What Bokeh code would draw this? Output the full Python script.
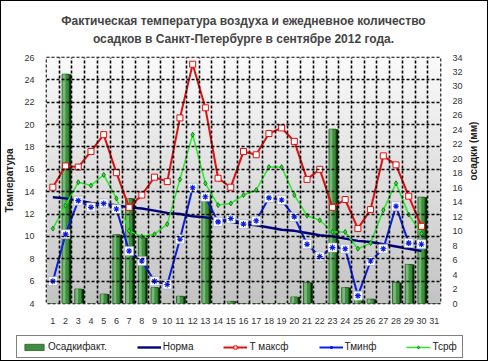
import math
import numpy as np
from bokeh.plotting import figure
from bokeh.layouts import column, row
from bokeh.models import (Range1d, LinearAxis, FixedTicker, Legend, LegendItem,
                          Title, ColumnDataSource)
from bokeh.embed import file_html
from bokeh.resources import INLINE

# ---------------- data ----------------
days = list(range(1, 32))
precip = [0, 31.7, 2.0, 0, 1.3, 9.5, 14.5, 9.1, 2.2, 0, 1.0, 0, 15.1, 0, 0.3, 0,
          0, 0, 0, 0.9, 2.9, 0, 24.1, 2.2, 0.6, 0.6, 0, 2.9, 5.4, 14.7, 0]
tdays = list(range(1, 31))
norm = [13.5, 13.4, 13.2, 13.0, 12.9, 12.8, 12.6, 12.5, 12.3, 12.1, 12.0, 11.8,
        11.7, 11.5, 11.3, 11.1, 11.0, 10.8, 10.6, 10.5, 10.3, 10.1, 10.0, 9.8,
        9.6, 9.5, 9.3, 9.1, 8.9, 8.7]
tmax = [14.4, 16.3, 16.2, 17.6, 19.1, 15.7, 12.6, 13.7, 15.3, 14.9, 20.6, 25.4,
        21.5, 15.2, 14.4, 17.6, 17.3, 19.2, 19.7, 18.5, 15.1, 16.0, 12.6, 13.3,
        10.7, 12.4, 17.2, 16.4, 13.6, 10.9]
tmin = [6.0, 10.2, 13.2, 12.6, 12.95, 12.45, 8.7, 7.8, 6.0, 5.7, 9.75, 14.35,
        13.55, 11.3, 11.6, 11.1, 11.4, 13.45, 13.25, 11.75, 9.3, 8.2, 9.0, 8.9,
        4.7, 7.8, 8.9, 12.7, 9.4, 9.3]
tavg = [10.7, 12.75, 14.85, 14.55, 15.5, 13.4, 10.5, 10.0, 10.2, 11.1, 15.1, 19.1,
        14.75, 12.8, 12.95, 13.7, 14.15, 16.2, 16.2, 13.7, 11.85, 11.45, 10.4, 10.4,
        8.9, 9.4, 12.35, 14.75, 11.95, 10.25]
left_ticks = list(range(4, 27, 2))
right_ticks = list(range(0, 35, 2))
legend_labels = ["Осадкифакт.", "Норма", "Т максф", "Тминф", "Тсрф"]
title_line1 = "Фактическая температура воздуха и ежедневное количество"
title_line2 = "осадков в Санкт-Петербурге в сентябре 2012 года."

FONT = "Liberation Sans"

# styles
BAR_SHADOW = dict(fill_color="#0c2a0c", line_color=None)
BAR_MAIN = dict(fill_color="#3e8e3e", line_color="#1f5a1f", line_width=0.8)
NORM = dict(line_color="#000080", line_width=2.4)
AVG_L = dict(line_color="#22ee22", line_width=1.5)
AVG_M = dict(marker="diamond", size=5, fill_color="#22ee22", line_color="#145a14", line_width=0.8)
MIN_L = dict(line_color="#0a1ee6", line_width=2.0)
MIN_M = dict(marker="asterisk", size=6, line_color="#0a1ee6", line_width=1.1)
MAX_L = dict(line_color="#e01010", line_width=2.0)
MAX_M = dict(marker="square", size=6, fill_color="white", line_color="#e01010", line_width=1.0)

p = figure(frame_width=394, frame_height=246, output_backend="svg", toolbar_location=None,
           x_range=Range1d(0.5, 31.5), y_range=Range1d(4, 26),
           min_border_left=45, min_border_right=42, min_border_top=56,
           min_border_bottom=22, background_fill_color="#e6e6e6")
p.extra_y_ranges = {"mm": Range1d(0, 34)}

# title: spacer (nearest the frame), then line 2, then line 1 on top
p.add_layout(Title(text=" ", text_font=FONT, text_font_size="9px", standoff=0), "above")
p.add_layout(Title(text=title_line2, align="center", text_font=FONT, text_font_size="12px",
                   text_font_style="bold", standoff=0), "above")
p.add_layout(Title(text=title_line1, align="center", text_font=FONT, text_font_size="12px",
                   text_font_style="bold", standoff=4), "above")

# gradient background of plot area
n = 64
arr = np.zeros((n, 1, 4), dtype=np.uint8)
for i in range(n):
    t = i / (n - 1)  # 0 bottom -> 1 top
    g = int(196 + (250 - 196) * t)
    arr[i, 0, :] = [g, g, g, 255]
img = arr.view(np.uint32).reshape(n, 1)
p.image_rgba(image=[img], x=0.5, y=4, dw=31, dh=22, level="underlay")

# grid
p.xgrid.ticker = FixedTicker(ticks=[d + 0.5 for d in days[:-1]])
p.ygrid.ticker = FixedTicker(ticks=left_ticks)
for g in (p.xgrid, p.ygrid):
    g.grid_line_color = "black"
    g.grid_line_dash = "3 2"
    g.grid_line_width = 1.6
    g.level = "glyph"
p.outline_line_color = "black"
p.outline_line_dash = "3 2"
p.outline_line_width = 1.6

# axes
p.xaxis.ticker = FixedTicker(ticks=days)
p.yaxis.ticker = FixedTicker(ticks=left_ticks)
right = LinearAxis(y_range_name="mm", ticker=FixedTicker(ticks=right_ticks),
                   axis_label="осадки (мм)")
p.add_layout(right, "right")
p.yaxis[0].axis_label = "Температура"
for ax in (p.xaxis[0], p.yaxis[0], right):
    ax.axis_line_color = None
    ax.major_tick_line_color = None
    ax.minor_tick_line_color = None
    ax.major_label_text_font = FONT
    ax.major_label_text_font_size = "9px"
    ax.major_label_text_color = "#333333"
    ax.axis_label_text_font = FONT
    ax.axis_label_text_font_size = "10px"
    ax.axis_label_text_font_style = "bold"
    ax.axis_label_text_color = "#222222"
p.xaxis.major_label_standoff = 8
p.yaxis[0].major_label_standoff = 6
right.major_label_standoff = 6
p.yaxis[0].axis_label_standoff = 6
right.axis_label_standoff = 8
right.axis_label_orientation = math.pi / 2

# precipitation bars
src = ColumnDataSource(dict(x=days, top=precip,
                            xs=[d + 0.18 for d in days],
                            xh=[d - 0.12 for d in days]))
p.vbar(x="xs", top="top", bottom=0, width=0.55, source=src, y_range_name="mm", **BAR_SHADOW)
p.vbar(x="x", top="top", bottom=0, width=0.55, source=src, y_range_name="mm", **BAR_MAIN)
p.vbar(x="xh", top="top", bottom=0, width=0.22, source=src, y_range_name="mm",
       fill_color="#86c486", line_color=None, fill_alpha=0.8)

# lines
p.line(tdays, norm, **NORM)
p.line(tdays, tavg, **AVG_L)
p.scatter(tdays, tavg, **AVG_M)
p.line(tdays, tmin, **MIN_L)
p.scatter(tdays, tmin, marker="square", size=9, fill_color="white",
          line_color="#9aa0c8", line_width=0.6)
p.scatter(tdays, tmin, **MIN_M)
p.line(tdays, tmax, **MAX_L)
p.scatter(tdays, tmax, **MAX_M)

# ---------------- legend strip (own small figure below the chart) ----------------
q = figure(width=481, height=34, output_backend="svg",
           toolbar_location=None, x_axis_location=None, y_axis_location=None,
           x_range=Range1d(0, 1), y_range=Range1d(0, 1),
           min_border_left=0, min_border_right=0, min_border_top=0, min_border_bottom=0)
q.grid.visible = False
q.outline_line_color = None
# legend sample renderers: placed outside the visible range so only the legend shows them
hx, hy = [5, 6], [5, 5]
r_bar = q.vbar(x=[5], top=[5], bottom=4, width=0.5, **BAR_MAIN)
r_norm = q.line(hx, hy, **NORM)
r_maxl = q.line(hx, hy, **MAX_L)
r_maxm = q.scatter(hx, hy, **MAX_M)
r_minl = q.line(hx, hy, **MIN_L)
r_minm = q.scatter(hx, hy, **MIN_M)
r_avgl = q.line(hx, hy, **AVG_L)
r_avgm = q.scatter(hx, hy, **AVG_M)
legend = Legend(items=[
    LegendItem(label=legend_labels[0], renderers=[r_bar]),
    LegendItem(label=legend_labels[1], renderers=[r_norm]),
    LegendItem(label=legend_labels[2], renderers=[r_maxl, r_maxm]),
    LegendItem(label=legend_labels[3], renderers=[r_minl, r_minm]),
    LegendItem(label=legend_labels[4], renderers=[r_avgl, r_avgm]),
], orientation="horizontal", location=(15, 2))
legend.label_text_font = FONT
legend.label_text_font_size = "10px"
legend.label_text_color = "#222222"
legend.glyph_width = 24
legend.glyph_height = 8
legend.label_standoff = 2
legend.spacing = 30
legend.padding = 5
legend.margin = 0
legend.border_line_color = "black"
legend.border_line_width = 1
legend.background_fill_color = "white"
q.add_layout(legend, "center")

layout = column(row(p), row(q), spacing=0, styles={"border": "1px solid black"})
open("out.html", "w").write(file_html(layout, INLINE))
